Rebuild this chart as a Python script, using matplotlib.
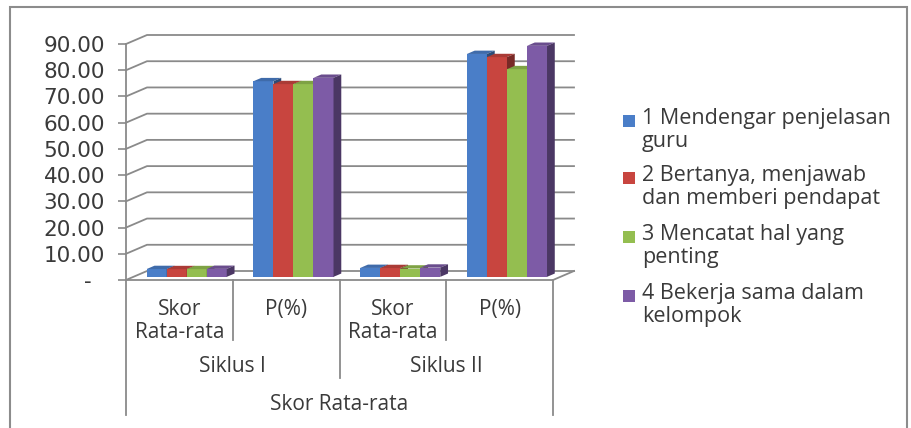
import matplotlib
matplotlib.use("Agg")
import matplotlib.pyplot as plt
from matplotlib.patches import Polygon, Rectangle

# ---- data ------------------------------------------------------------
siklus = ["Siklus I", "Siklus II"]
sub_labels = ["Skor\nRata-rata", "P(%)", "Skor\nRata-rata", "P(%)"]
axis_title = "Skor Rata-rata"

series_names = [
    "1 Mendengar penjelasan\nguru",
    "2 Bertanya, menjawab\ndan memberi pendapat",
    "3 Mencatat hal yang\npenting",
    "4 Bekerja sama dalam\nkelompok",
]
# one value per category: Skor I, P(%) I, Skor II, P(%) II
mendengar = [2.98, 74.6, 3.40, 85.0]
bertanya = [2.94, 73.5, 3.35, 83.8]
mencatat = [2.94, 73.5, 3.17, 79.2]
bekerja = [3.04, 75.9, 3.52, 88.1]
values = [mendengar, bertanya, mencatat, bekerja]

colors = ["#4A7EC8", "#C8453F", "#94BE50", "#7D5BA6"]
yticks = [0, 10, 20, 30, 40, 50, 60, 70, 80, 90]

# ---- figure / axes --------------------------------------------------
W, H = 911, 428
fig = plt.figure(figsize=(W / 100, H / 100), dpi=100)
fig.patch.set_facecolor("white")

# front plane of the 3d box, in pixels
x0_px, x1_px, y0_px, y1_px = 126, 553, 280, 44
ax = fig.add_axes([x0_px / W, (H - y0_px) / H,
                   (x1_px - x0_px) / W, (y0_px - y1_px) / H])
ax.set_xlim(0, 4)
ax.set_ylim(0, 90)
ax.set_facecolor("none")

# oblique depth offset in data units (about 21px right, 9px up)
DX = 21 / ((x1_px - x0_px) / 4)
DY = 9 / ((y0_px - y1_px) / 90)

grid_c = "#8a8a8a"
text_c = "#3a3a3a"

# back wall gridlines + side wall diagonals
for v in yticks:
    ax.plot([0, DX, 4 + DX], [v, v + DY, v + DY], color=grid_c, lw=1.3,
            clip_on=False, zorder=1)
# floor outline
ax.plot([0, 4, 4 + DX], [0, 0, DY], color=grid_c, lw=1.3, clip_on=False, zorder=1)

# y axis on the front-left edge
for s in ["top", "right", "bottom"]:
    ax.spines[s].set_visible(False)
ax.spines["left"].set_color(grid_c)
ax.spines["left"].set_linewidth(1.3)
ax.set_yticks(yticks)
ax.set_yticklabels(["-  "] + [f"{v:.2f}" for v in yticks[1:]],
                   fontsize=15.5, color=text_c, family="DejaVu Sans")
ax.tick_params(axis="y", length=6, width=1.2, color=grid_c, pad=9)
ax.set_xticks([])


def shade(c, k):
    r, g, b = matplotlib.colors.to_rgb(c)
    return (r * k, g * k, b * k)


# ---- 3d columns -----------------------------------------------------
f0, f1 = 0.35, 0.72          # bar front / back as fraction of floor depth
bar_w = 0.1875
centers = [0.5, 1.5, 2.5, 3.5]
for ci, cx in enumerate(centers):
    for si in range(4):
        h = values[si][ci]
        left = cx - 2 * bar_w + si * bar_w
        fx, fy = f0 * DX, f0 * DY
        bx, by = f1 * DX, f1 * DY
        z = 3 + ci * 10 + si
        ax.bar(left + fx, h, width=bar_w, bottom=fy, align="edge",
               color=colors[si], lw=0, zorder=z, clip_on=False)
        top = Polygon([(left + fx, h + fy), (left + bar_w + fx, h + fy),
                       (left + bar_w + bx, h + by), (left + bx, h + by)],
                      closed=True, fc=shade(colors[si], 0.85), lw=0,
                      zorder=z, clip_on=False)
        side = Polygon([(left + bar_w + fx, fy), (left + bar_w + bx, by),
                        (left + bar_w + bx, h + by), (left + bar_w + fx, h + fy)],
                       closed=True, fc=shade(colors[si], 0.6), lw=0,
                       zorder=z, clip_on=False)
        ax.add_patch(top)
        ax.add_patch(side)

# ---- multi-level category axis -------------------------------------
xt = ax.get_xaxis_transform()
ax_h = y0_px - y1_px


def below(px):
    # pixels below the front floor edge -> axes fraction
    return -px / ax_h


for xv, depth in [(0, 135), (1, 60), (2, 98), (3, 60), (4, 135)]:
    ax.plot([xv, xv], [0, below(depth)], transform=xt, color=grid_c, lw=1.3,
            clip_on=False)

cat_font = dict(family="Open Sans", fontsize=15, color=text_c, ha="center")
for cx, lab in zip(centers, sub_labels):
    ax.text(cx, below(19), lab, transform=xt, va="top", linespacing=1.1, **cat_font)
for cx, lab in zip([1, 3], siklus):
    ax.text(cx, below(87), lab, transform=xt, va="center", **cat_font)
ax.text(2, below(125), axis_title, transform=xt, va="center", **cat_font)

# ---- legend ---------------------------------------------------------
leg_y = [121, 178, 237, 296]
for name, c, yy in zip(series_names, colors, leg_y):
    fig.add_artist(Rectangle((623 / W, (H - yy - 6) / H), 12 / W, 12 / H,
                             transform=fig.transFigure, fc=c, lw=0))
    fig.text(642 / W, (H - yy + 13) / H, name, ha="left", va="top",
             family="Open Sans", fontsize=15.5, color=text_c, linespacing=1.15)

# outer chart border
fig.add_artist(Rectangle((10 / W, -0.05), (907 - 10) / W, (1.05 - 7 / H),
                         transform=fig.transFigure, fill=False,
                         ec="#8c8c8c", lw=1.5))

fig.savefig("out.png", dpi=100)
